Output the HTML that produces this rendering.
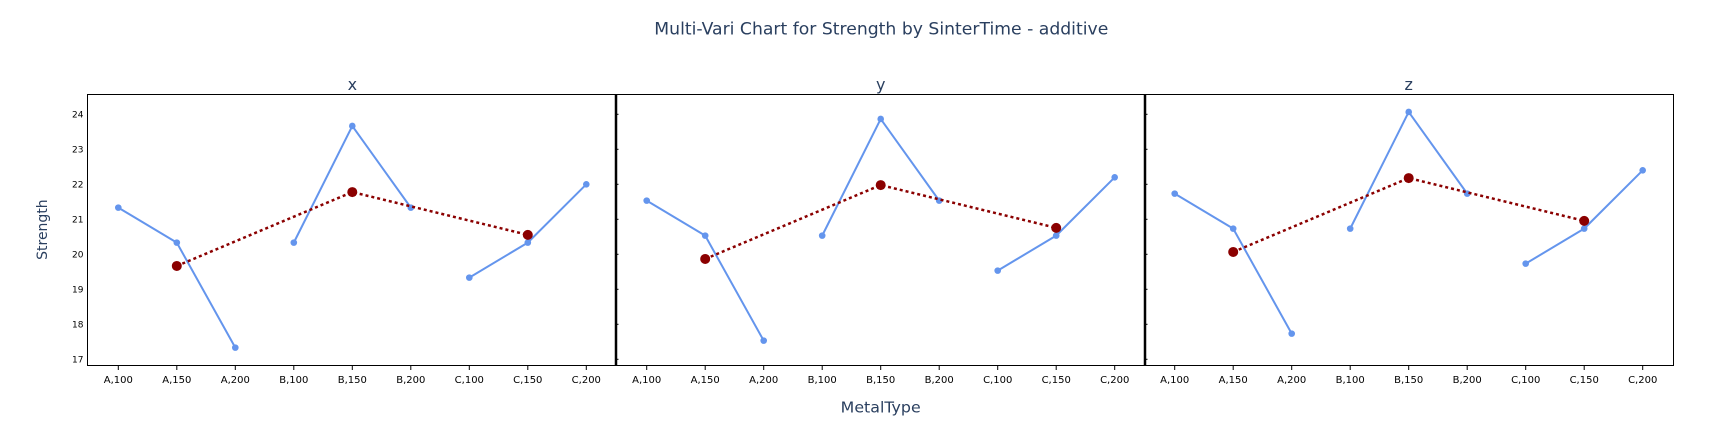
<!DOCTYPE html>
<html>
<head>
<meta charset="utf-8">
<style>
  html, body { margin:0; padding:0; background:#fff; }
  svg { display:block; }
  text { font-family: "DejaVu Sans", "Liberation Sans", sans-serif; }
</style>
</head>
<body>
<svg width="1731" height="429" viewBox="0 0 1731 429" xmlns="http://www.w3.org/2000/svg">
  <rect x="0" y="0" width="1731" height="429" fill="#fff"/>

  <!-- Title -->
  <text x="881.3" y="34.3" font-size="17" fill="#2a3f5f" text-anchor="middle" textLength="454" lengthAdjust="spacingAndGlyphs">Multi-Vari Chart for Strength by SinterTime - additive</text>

  <!-- Subplot titles -->
  <text x="352.3" y="90" font-size="16" fill="#2a3f5f" text-anchor="middle">x</text>
  <text x="880.7" y="90" font-size="16" fill="#2a3f5f" text-anchor="middle">y</text>
  <text x="1408.7" y="90" font-size="16" fill="#2a3f5f" text-anchor="middle">z</text>

  <!-- Frame -->
  <rect x="87.5" y="94.5" width="1586" height="271" fill="none" stroke="#000" stroke-width="1"/>
  <line x1="616" y1="94" x2="616" y2="366" stroke="#000" stroke-width="2.5"/>
  <line x1="1145" y1="94" x2="1145" y2="366" stroke="#000" stroke-width="2.5"/>

  <!-- small y ticks at dividers -->
  <g stroke="#000" stroke-width="1">
    <line x1="617" y1="114.3" x2="618.5" y2="114.3"/>
    <line x1="617" y1="149.3" x2="618.5" y2="149.3"/>
    <line x1="617" y1="184.3" x2="618.5" y2="184.3"/>
    <line x1="617" y1="219.3" x2="618.5" y2="219.3"/>
    <line x1="617" y1="254.3" x2="618.5" y2="254.3"/>
    <line x1="617" y1="289.3" x2="618.5" y2="289.3"/>
    <line x1="617" y1="324.3" x2="618.5" y2="324.3"/>
    <line x1="617" y1="359.3" x2="618.5" y2="359.3"/>
    <line x1="1146" y1="114.3" x2="1147.5" y2="114.3"/>
    <line x1="1146" y1="149.3" x2="1147.5" y2="149.3"/>
    <line x1="1146" y1="184.3" x2="1147.5" y2="184.3"/>
    <line x1="1146" y1="219.3" x2="1147.5" y2="219.3"/>
    <line x1="1146" y1="254.3" x2="1147.5" y2="254.3"/>
    <line x1="1146" y1="289.3" x2="1147.5" y2="289.3"/>
    <line x1="1146" y1="324.3" x2="1147.5" y2="324.3"/>
    <line x1="1146" y1="359.3" x2="1147.5" y2="359.3"/>
  </g>

  <!-- Y tick labels -->
  <g font-size="9" fill="#000" text-anchor="end">
    <text x="83.5" y="117.6">24</text>
    <text x="83.5" y="152.6">23</text>
    <text x="83.5" y="187.6">22</text>
    <text x="83.5" y="222.6">21</text>
    <text x="83.5" y="257.6">20</text>
    <text x="83.5" y="292.6">19</text>
    <text x="83.5" y="327.6">18</text>
    <text x="83.5" y="362.6">17</text>
  </g>

  <!-- Y axis title -->
  <text transform="translate(47,229.6) rotate(-90)" font-size="14" fill="#2a3f5f" text-anchor="middle">Strength</text>

  <!-- X ticks -->
  <g stroke="#000" stroke-width="1">
    <line x1="118.3" y1="366" x2="118.3" y2="370"/>
    <line x1="176.8" y1="366" x2="176.8" y2="370"/>
    <line x1="235.3" y1="366" x2="235.3" y2="370"/>
    <line x1="293.8" y1="366" x2="293.8" y2="370"/>
    <line x1="352.3" y1="366" x2="352.3" y2="370"/>
    <line x1="410.8" y1="366" x2="410.8" y2="370"/>
    <line x1="469.3" y1="366" x2="469.3" y2="370"/>
    <line x1="527.8" y1="366" x2="527.8" y2="370"/>
    <line x1="586.3" y1="366" x2="586.3" y2="370"/>
    <line x1="646.7" y1="366" x2="646.7" y2="370"/>
    <line x1="705.2" y1="366" x2="705.2" y2="370"/>
    <line x1="763.7" y1="366" x2="763.7" y2="370"/>
    <line x1="822.2" y1="366" x2="822.2" y2="370"/>
    <line x1="880.7" y1="366" x2="880.7" y2="370"/>
    <line x1="939.2" y1="366" x2="939.2" y2="370"/>
    <line x1="997.7" y1="366" x2="997.7" y2="370"/>
    <line x1="1056.2" y1="366" x2="1056.2" y2="370"/>
    <line x1="1114.7" y1="366" x2="1114.7" y2="370"/>
    <line x1="1174.7" y1="366" x2="1174.7" y2="370"/>
    <line x1="1233.2" y1="366" x2="1233.2" y2="370"/>
    <line x1="1291.7" y1="366" x2="1291.7" y2="370"/>
    <line x1="1350.2" y1="366" x2="1350.2" y2="370"/>
    <line x1="1408.7" y1="366" x2="1408.7" y2="370"/>
    <line x1="1467.2" y1="366" x2="1467.2" y2="370"/>
    <line x1="1525.7" y1="366" x2="1525.7" y2="370"/>
    <line x1="1584.2" y1="366" x2="1584.2" y2="370"/>
    <line x1="1642.7" y1="366" x2="1642.7" y2="370"/>
  </g>

  <!-- X tick labels -->
  <g font-size="10" fill="#000" text-anchor="middle">
    <text x="118.3" y="383">A,100</text>
    <text x="176.8" y="383">A,150</text>
    <text x="235.3" y="383">A,200</text>
    <text x="293.8" y="383">B,100</text>
    <text x="352.3" y="383">B,150</text>
    <text x="410.8" y="383">B,200</text>
    <text x="469.3" y="383">C,100</text>
    <text x="527.8" y="383">C,150</text>
    <text x="586.3" y="383">C,200</text>
    <text x="646.7" y="383">A,100</text>
    <text x="705.2" y="383">A,150</text>
    <text x="763.7" y="383">A,200</text>
    <text x="822.2" y="383">B,100</text>
    <text x="880.7" y="383">B,150</text>
    <text x="939.2" y="383">B,200</text>
    <text x="997.7" y="383">C,100</text>
    <text x="1056.2" y="383">C,150</text>
    <text x="1114.7" y="383">C,200</text>
    <text x="1174.7" y="383">A,100</text>
    <text x="1233.2" y="383">A,150</text>
    <text x="1291.7" y="383">A,200</text>
    <text x="1350.2" y="383">B,100</text>
    <text x="1408.7" y="383">B,150</text>
    <text x="1467.2" y="383">B,200</text>
    <text x="1525.7" y="383">C,100</text>
    <text x="1584.2" y="383">C,150</text>
    <text x="1642.7" y="383">C,200</text>
  </g>

  <!-- X axis title -->
  <text x="880.7" y="412.3" font-size="15.5" fill="#2a3f5f" text-anchor="middle" textLength="80" lengthAdjust="spacingAndGlyphs">MetalType</text>

  <!-- Blue group lines -->
  <g fill="none" stroke="#6495ED" stroke-width="2" stroke-linejoin="round">
    <!-- panel x -->
    <polyline points="118.3,207.63 176.8,242.63 235.3,347.63"/>
    <polyline points="293.8,242.63 352.3,125.97 410.8,207.63"/>
    <polyline points="469.3,277.63 527.8,242.63 586.3,184.3"/>
    <!-- panel y -->
    <polyline points="646.7,200.63 705.2,235.63 763.7,340.63"/>
    <polyline points="822.2,235.63 880.7,118.97 939.2,200.63"/>
    <polyline points="997.7,270.63 1056.2,235.63 1114.7,177.3"/>
    <!-- panel z -->
    <polyline points="1174.7,193.63 1233.2,228.63 1291.7,333.63"/>
    <polyline points="1350.2,228.63 1408.7,111.97 1467.2,193.63"/>
    <polyline points="1525.7,263.63 1584.2,228.63 1642.7,170.3"/>
  </g>
  <g fill="#6495ED">
    <circle cx="118.3" cy="207.63" r="3.3"/><circle cx="176.8" cy="242.63" r="3.3"/><circle cx="235.3" cy="347.63" r="3.3"/>
    <circle cx="293.8" cy="242.63" r="3.3"/><circle cx="352.3" cy="125.97" r="3.3"/><circle cx="410.8" cy="207.63" r="3.3"/>
    <circle cx="469.3" cy="277.63" r="3.3"/><circle cx="527.8" cy="242.63" r="3.3"/><circle cx="586.3" cy="184.3" r="3.3"/>
    <circle cx="646.7" cy="200.63" r="3.3"/><circle cx="705.2" cy="235.63" r="3.3"/><circle cx="763.7" cy="340.63" r="3.3"/>
    <circle cx="822.2" cy="235.63" r="3.3"/><circle cx="880.7" cy="118.97" r="3.3"/><circle cx="939.2" cy="200.63" r="3.3"/>
    <circle cx="997.7" cy="270.63" r="3.3"/><circle cx="1056.2" cy="235.63" r="3.3"/><circle cx="1114.7" cy="177.3" r="3.3"/>
    <circle cx="1174.7" cy="193.63" r="3.3"/><circle cx="1233.2" cy="228.63" r="3.3"/><circle cx="1291.7" cy="333.63" r="3.3"/>
    <circle cx="1350.2" cy="228.63" r="3.3"/><circle cx="1408.7" cy="111.97" r="3.3"/><circle cx="1467.2" cy="193.63" r="3.3"/>
    <circle cx="1525.7" cy="263.63" r="3.3"/><circle cx="1584.2" cy="228.63" r="3.3"/><circle cx="1642.7" cy="170.3" r="3.3"/>
  </g>

  <!-- Mean dotted lines -->
  <g fill="none" stroke="#8B0000" stroke-width="2.5" stroke-dasharray="3,3">
    <polyline points="176.8,265.97 352.3,192.08 527.8,234.85"/>
    <polyline points="705.2,258.97 880.7,185.08 1056.2,227.85"/>
    <polyline points="1233.2,251.97 1408.7,178.08 1584.2,220.85"/>
  </g>
  <g fill="#8B0000">
    <circle cx="176.8" cy="265.97" r="5"/><circle cx="352.3" cy="192.08" r="5"/><circle cx="527.8" cy="234.85" r="5"/>
    <circle cx="705.2" cy="258.97" r="5"/><circle cx="880.7" cy="185.08" r="5"/><circle cx="1056.2" cy="227.85" r="5"/>
    <circle cx="1233.2" cy="251.97" r="5"/><circle cx="1408.7" cy="178.08" r="5"/><circle cx="1584.2" cy="220.85" r="5"/>
  </g>
</svg>
</body>
</html>
